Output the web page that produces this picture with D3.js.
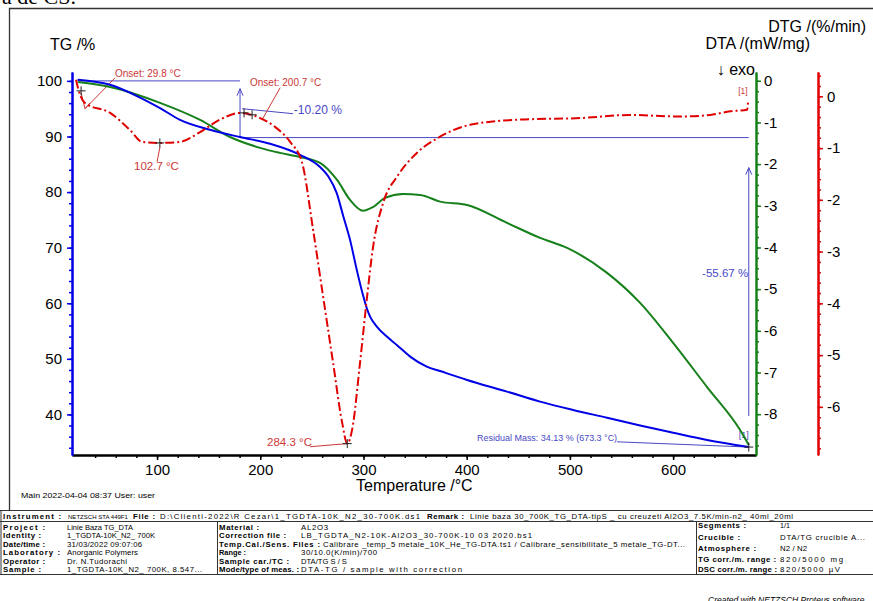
<!DOCTYPE html>
<html>
<head>
<meta charset="utf-8">
<script src="https://cdn.jsdelivr.net/npm/d3@7"></script>
<style>
body { margin: 0; background: #fff; }
svg { display: block; font-family: "Liberation Sans", Arial, sans-serif; }
</style>
</head>
<body>
<svg id="chart" width="873" height="601"></svg>
<script>
// curve data
var tgTemp = [23, 54.5, 83.5, 102.9, 122.3, 151.4, 180.4, 209.5, 238.6, 257.9, 266.0, 274.1, 280.5, 287, 293.5, 299.9, 303.2, 306.4, 312.9, 322.6, 332.3, 345.2, 361.3, 374.2, 400.4, 439.1, 471.1, 503.1, 536, 568, 600, 632.9, 673.3]
var tgMass = [100.2, 99.3, 97.0, 95.1, 93.0, 91.2, 89.9, 88.7, 86.7, 84.5, 82.8, 79.8, 75.6, 71.4, 66.0, 61.2, 59.1, 57.6, 55.8, 54.0, 52.5, 50.4, 48.6, 47.8, 46.2, 44.1, 42.3, 40.8, 39.4, 38.0, 36.7, 35.4, 34.13]

var dtaTemp = [23.4, 54.5, 102.9, 141.7, 170.7, 199.8, 219.2, 238.6, 257.9, 274.4, 287, 299.6, 309.3, 320.9, 338.4, 354.8, 374.2, 400.4, 439.1, 471.1, 497.3, 536, 568, 600, 632.9, 664.9, 673.3]
var dtaVal = [-0.03, -0.15, -0.53, -0.94, -1.35, -1.61, -1.73, -1.83, -1.97, -2.38, -2.86, -3.12, -3.03, -2.81, -2.72, -2.74, -2.90, -2.98, -3.41, -3.77, -4.01, -4.61, -5.33, -6.29, -7.35, -8.38, -8.74]

var dtgTemp = [21.5, 23.4, 25.4, 30.2, 54.5, 73.8, 85.5, 102.7, 122.3, 141.7, 161, 180.4, 199.8, 214.3, 228.9, 240.5, 251.2, 260.9, 270.5, 279.3, 284.3, 289, 296.7, 303.5, 309.3, 319, 332.6, 351.9, 374.2, 403.3, 451.7, 509.9, 558.3, 606.8, 635.9, 655.2, 671.7, 672.7]
var dtgVal = [0.32, 0.16, 0.03, -0.13, -0.32, -0.65, -0.88, -0.90, -0.88, -0.69, -0.45, -0.32, -0.42, -0.59, -0.88, -1.28, -2.58, -3.87, -5.14, -6.30, -6.71, -6.44, -5.14, -3.87, -2.91, -2.06, -1.55, -1.09, -0.78, -0.55, -0.45, -0.42, -0.36, -0.39, -0.36, -0.29, -0.26, -0.07]

var tempTicks = [100, 200, 300, 400, 500, 600]
var tgTicks = [40, 50, 60, 70, 80, 90, 100]
var dtaTicks = [0, -1, -2, -3, -4, -5, -6, -7, -8]
var dtgTicks = [0, -1, -2, -3, -4, -5, -6]

const BLUE = "#0000e6", GREEN = "#16801a", RED = "#e00000"
const NOTE_BLUE = "#4848c4", NOTE_RED = "#cc3838"

const svg = d3.select("#chart")

var x = d3.scaleLinear().domain([17.6, 680.3]).range([72, 756])
var yTG = d3.scaleLinear().domain([32.7, 101.6]).range([455, 72])
var yDTA = d3.scaleLinear().domain([-8.98, 0.21]).range([455, 72])
var yDTG = d3.scaleLinear().domain([-6.93, 0.47]).range([455, 72])

// cropped text above the frame
svg.append("text").attr("x", 2).attr("y", 4).text("ă de CS.")
    .style("font-family", "Liberation Serif, Times New Roman, serif").style("font-size", "22px")

// frame
svg.append("path").attr("d", "M9.5,510 V8.5 H873").attr("fill", "none").attr("stroke", "#333").attr("stroke-width", 1.3)

function styleAxis(g, color) {
    g.select(".domain").attr("stroke", color).attr("stroke-width", 2)
    g.selectAll(".tick line").attr("stroke", color).attr("stroke-width", 1.5)
    g.selectAll("text").attr("fill", "#000").style("font-size", "15px")
        .style("font-family", "Liberation Sans, Arial, sans-serif")
}

// x axis
var gx = svg.append("g").attr("transform", "translate(0,455)")
    .call(d3.axisBottom(x).tickValues(d3.range(40, 680, 20)).tickSize(3).tickFormat("").tickSizeOuter(0))
styleAxis(gx, "#000")
var gx2 = svg.append("g").attr("transform", "translate(0,455)")
    .call(d3.axisBottom(x).tickValues(tempTicks).tickSize(5).tickPadding(4).tickFormat(d => String(d)).tickSizeOuter(0))
styleAxis(gx2, "#000")

// TG axis (left)
var gy = svg.append("g").attr("transform", "translate(72,0)")
    .call(d3.axisLeft(yTG).tickValues(d3.range(34, 102, 2)).tickSize(3).tickFormat("").tickSizeOuter(0))
styleAxis(gy, BLUE)
var gy2 = svg.append("g").attr("transform", "translate(72,0)")
    .call(d3.axisLeft(yTG).tickValues(tgTicks).tickSize(5).tickPadding(5).tickFormat(d => String(d)).tickSizeOuter(0))
styleAxis(gy2, BLUE)

// DTA axis (green)
var ga = svg.append("g").attr("transform", "translate(756,0)")
    .call(d3.axisRight(yDTA).tickValues(d3.range(-8.75, 0.1, 0.25)).tickSize(3).tickFormat("").tickSizeOuter(0))
styleAxis(ga, GREEN)
var ga2 = svg.append("g").attr("transform", "translate(756,0)")
    .call(d3.axisRight(yDTA).tickValues(dtaTicks).tickSize(5).tickPadding(3).tickFormat(d => String(d)).tickSizeOuter(0))
styleAxis(ga2, GREEN)

// DTG axis (red)
var gr = svg.append("g").attr("transform", "translate(818,0)")
    .call(d3.axisRight(yDTG).tickValues(d3.range(-6.8, 0.41, 0.2)).tickSize(3).tickFormat("").tickSizeOuter(0))
styleAxis(gr, RED)
var gr2 = svg.append("g").attr("transform", "translate(818,0)")
    .call(d3.axisRight(yDTG).tickValues(dtgTicks).tickSize(5).tickPadding(4).tickFormat(d => String(d)).tickSizeOuter(0))
styleAxis(gr2, RED)

// axis titles
svg.append("text").attr("x", 50).attr("y", 50).text("TG /%").style("font-size", "16px")
svg.append("text").attr("x", 866).attr("y", 32).attr("text-anchor", "end").text("DTG /(%/min)").style("font-size", "16px")
svg.append("text").attr("x", 810).attr("y", 49).attr("text-anchor", "end").text("DTA /(mW/mg)").style("font-size", "16px")
svg.append("text").attr("x", 755).attr("y", 75).attr("text-anchor", "end").text("↓ exo").style("font-size", "16px")
svg.append("text").attr("x", 356).attr("y", 491).text("Temperature /°C").style("font-size", "16px")
svg.append("text").attr("x", 21).attr("y", 498).text("Main   2022-04-04 08:37    User: user").style("font-size", "7.5px")
    .attr("textLength", 134).attr("lengthAdjust", "spacingAndGlyphs")

// annotations (blue, TG)
var notes = svg.append("g").attr("fill", "none").attr("stroke", NOTE_BLUE).attr("stroke-width", 1)
notes.append("line").attr("x1", x(23)).attr("x2", x(180.4)).attr("y1", yTG(100)).attr("y2", yTG(100))
notes.append("line").attr("x1", x(180.4)).attr("x2", x(180.4)).attr("y1", yTG(89.8)).attr("y2", yTG(98.6))
notes.append("path").attr("d", "M" + (x(180.4) - 3) + "," + (yTG(98.6) + 7) + " L" + x(180.4) + "," + yTG(98.6) + " L" + (x(180.4) + 3) + "," + (yTG(98.6) + 7))
notes.append("line").attr("x1", x(180.4)).attr("x2", x(673.3)).attr("y1", yTG(89.8)).attr("y2", yTG(89.8))
notes.append("line").attr("x1", x(182.4)).attr("x2", x(231.8)).attr("y1", yTG(95.0)).attr("y2", yTG(94.1))
notes.append("line").attr("x1", x(673.3)).attr("x2", x(673.3)).attr("y1", yTG(39.7)).attr("y2", yTG(84.4))
notes.append("path").attr("d", "M" + (x(673.3) - 3) + "," + (yTG(84.4) + 7) + " L" + x(673.3) + "," + yTG(84.4) + " L" + (x(673.3) + 3) + "," + (yTG(84.4) + 7))
notes.append("line").attr("x1", x(545.7)).attr("x2", x(673.3)).attr("y1", yTG(35.07)).attr("y2", yTG(34.13))

function note(t, v, scale, str, color, size, anchor) {
    return svg.append("text").attr("x", x(t)).attr("y", scale(v)).text(str)
        .attr("fill", color).attr("text-anchor", anchor || "start").style("font-size", size + "px")
}
note(232.5, 94.06, yTG, "-10.20 %", NOTE_BLUE, 12)
note(672.7, 64.7, yTG, "-55.67 %", NOTE_BLUE, 11.5, "end")
note(410.1, 35.3, yTG, "Residual Mass: 34.13 % (673.3 °C)", NOTE_BLUE, 9.5)
    .attr("textLength", 140).attr("lengthAdjust", "spacingAndGlyphs")
note(663.5, 35.8, yTG, "[1]", NOTE_BLUE, 9)

// annotations (red, DTG)
var rnotes = svg.append("g").attr("fill", "none").attr("stroke", NOTE_RED).attr("stroke-width", 1)
rnotes.append("line").attr("x1", x(59.3)).attr("x2", x(30.2)).attr("y1", yDTG(0.357)).attr("y2", yDTG(-0.24))
rnotes.append("path").attr("d", "M" + x(26.4) + "," + yDTG(0.07) + " L" + x(30.2) + "," + yDTG(-0.24) + " L" + x(35.1) + "," + yDTG(-0.125))
rnotes.append("line").attr("x1", x(219.2)).attr("x2", x(201.7)).attr("y1", yDTG(0.164)).attr("y2", yDTG(-0.454))
rnotes.append("line").attr("x1", x(102.9)).attr("x2", x(100)).attr("y1", yDTG(-0.975)).attr("y2", yDTG(-1.265))
rnotes.append("line").attr("x1", x(248.3)).attr("x2", x(284.3)).attr("y1", yDTG(-6.77)).attr("y2", yDTG(-6.71))
note(59.3, 0.376, yDTG, "Onset: 29.8 °C", NOTE_RED, 10)
note(190.1, 0.203, yDTG, "Onset: 200.7 °C", NOTE_RED, 10)
note(77.7, -1.43, yDTG, "102.7 °C", NOTE_RED, 11.5)
note(206.6, -6.76, yDTG, "284.3 °C", NOTE_RED, 11.5)
note(663, 0.05, yDTG, "[1]", NOTE_RED, 8.5)

// data curves
var line = d3.line().curve(d3.curveMonotoneX)
svg.append("path").datum(dtaTemp.map((t, i) => [x(t), yDTA(dtaVal[i])]))
    .attr("d", line).attr("fill", "none").attr("stroke", GREEN).attr("stroke-width", 2)
svg.append("path").datum(tgTemp.map((t, i) => [x(t), yTG(tgMass[i])]))
    .attr("d", line).attr("fill", "none").attr("stroke", BLUE).attr("stroke-width", 2)
svg.append("path").datum(dtgTemp.map((t, i) => [x(t), yDTG(dtgVal[i])]))
    .attr("d", line).attr("fill", "none").attr("stroke", RED).attr("stroke-width", 2)
    .attr("stroke-dasharray", "9,3,2,3")

// cross markers
var crosses = [[26.4, 0.106, yDTG], [102.7, -0.90, yDTG], [184.3, -0.32, yDTG], [192.1, -0.357, yDTG], [284.3, -6.71, yDTG], [673.3, 34.13, yTG]]
crosses.forEach(function (c) {
    var cx = x(c[0]), cy = c[2](c[1])
    svg.append("path").attr("d", "M" + (cx - 4.5) + "," + cy + " H" + (cx + 4.5) + " M" + cx + "," + (cy - 4.5) + " V" + (cy + 4.5))
        .attr("stroke", "#222").attr("stroke-width", 1)
})

// info table below the chart
const CELL_FONT = 7.8
var table = svg.append("g").style("font-size", CELL_FONT + "px")
table.append("path").attr("d", "M0,510.5 H873 M0,521.5 H873 M0,574.5 H873 M1,510.5 V574.5 M217.5,521.5 V574.5 M696.5,521.5 V574.5")
    .attr("stroke", "#333").attr("stroke-width", 1).attr("fill", "none")

// text fitted to the width it takes in the picture: shrink if too wide, spread if too narrow
function cell(cx, cy, str, w, bold) {
    var t = table.append("text").attr("x", cx).attr("y", cy).text(str)
    if (bold) t.style("font-weight", "bold")
    var len = t.node().getComputedTextLength()
    if (len > w) t.style("font-size", (CELL_FONT * w / len).toFixed(2) + "px")
    else t.attr("textLength", w).attr("lengthAdjust", "spacing")
}

// [x, width, bold, text]
var instCells = [[3, 58, 1, "Instrument :"], [68, 60, 0, "NETZSCH STA 449F1"], [133, 22, 1, "File :"],
    [160, 260, 0, "D:\\Clienti-2022\\R Cezar\\1_TGDTA-10K_N2_30-700K.ds1"], [427, 37, 1, "Remark :"],
    [470, 323, 0, "Linie baza 30_700K_TG_DTA-tipS _ cu creuzeti Al2O3_7.5K/min-n2_ 40ml_20ml"]]
instCells.forEach(c => cell(c[0], 519, c[3], c[1], c[2]))

var leftLabels = ["Project :", "Identity :", "Date/time :", "Laboratory :", "Operator :", "Sample :"]
var leftLabelW = [42, 38, 42, 57, 42, 38]
var leftValues = ["Linie Baza TG_DTA", "1_TGDTA-10K_N2_ 700K", "31/03/2022 09:07:06", "Anorganic Polymers", "Dr. N.Tudorachi", "1_TGDTA-10K_N2_ 700K, 8.547..."]
var leftValueW = [66, 88, 75, 71, 60, 135]
var midLabels = ["Material :", "Correction file :", "Temp.Cal./Sens. Files :", "Range :", "Sample car./TC :", "Mode/type of meas. :"]
var midLabelW = [40, 67, 101, 27, 70, 80]
var midValues = ["AL2O3", "LB_TGDTA_N2-10K-Al2O3_30-700K-10 03 2020.bs1", "Calibrare _temp_5 metale_10K_He_TG-DTA.ts1 / Calibrare_sensibilitate_5 metale_TG-DT...", "30/10.0(K/min)/700", "DTA/TG S / S", "DTA-TG / sample with correction"]
var midValueX = [301, 301, 323, 301, 301, 301]
var midValueW = [27, 231, 362, 76, 46, 161]
var rightLabels = ["Segments :", "Crucible :", "Atmosphere :", "TG corr./m. range :", "DSC corr./m. range :"]
var rightLabelW = [48, 42, 58, 78, 79]
var rightValues = ["1/1", "DTA/TG crucible A...", "N2 / N2", "820/5000 mg", "820/5000 µV"]
var rightValueW = [10, 85, 27, 63, 60]
var rowY = [529.5, 538, 546.5, 555, 563.5, 572]
var rightY = [527.5, 539.5, 551, 562, 572]

leftLabels.forEach(function (l, i) {
    cell(3, rowY[i], l, leftLabelW[i], 1)
    cell(67, rowY[i], leftValues[i], leftValueW[i], 0)
    cell(219, rowY[i], midLabels[i], midLabelW[i], 1)
    cell(midValueX[i], rowY[i], midValues[i], midValueW[i], 0)
})
rightLabels.forEach(function (l, i) {
    cell(698, rightY[i], l, rightLabelW[i], 1)
    cell(780, rightY[i], rightValues[i], rightValueW[i], 0)
})
table.append("text").attr("x", 708).attr("y", 603).text("Created with NETZSCH Proteus software")
    .style("font-style", "italic").style("font-size", "8.5px")
</script>
</body>
</html>
